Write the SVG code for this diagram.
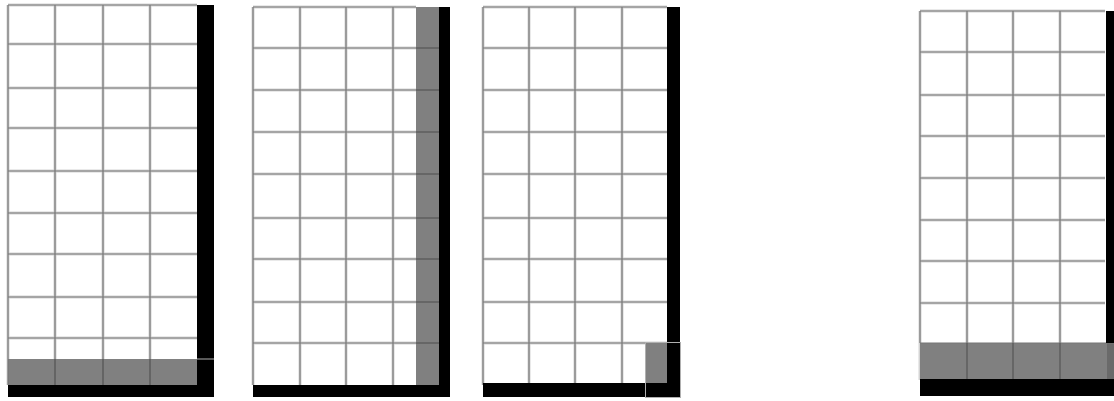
<svg xmlns="http://www.w3.org/2000/svg" width="1114" height="401" viewBox="0 0 1114 401">
<style>
.halo{stroke:#d4d4d4;stroke-width:3;fill:none}
.ln{stroke:#767676;stroke-width:1.2;fill:none}
.dk{stroke:#5e5e5e;stroke-width:1.5;fill:none}
.gf{fill:#808080}
.bk{fill:#000}
.thin{stroke:#b0b0b0;stroke-width:1;fill:none}
</style>
<rect width="1114" height="401" fill="#fff"/>
<g id="panel1">
<path class="halo" d="M8 5V385M55 5V385M103 5V385M150 5V385M8 5H197M8 44H197M8 88H197M8 128H197M8 171H197M8 213H197M8 254H197M8 297H197M8 338H197"/>
<rect class="gf" x="8" y="359" width="192" height="26"/>
<path class="ln" d="M8 5V385M55 5V385M103 5V385M150 5V385M8 5H197M8 44H197M8 88H197M8 128H197M8 171H197M8 213H197M8 254H197M8 297H197M8 338H197"/>
<path class="dk" d="M55 359V385M103 359V385M150 359V385"/>
<rect class="bk" x="197" y="5" width="17" height="392"/>
<rect class="bk" x="8" y="385" width="206" height="12"/>
<path class="thin" d="M197 359H214"/>
</g>
<g id="panel2">
<path class="halo" d="M253 7V385M300 7V397M346 7V397M393 7V397M253 7H416M253 48H416M253 90H416M253 132H416M253 174H416M253 218H416M253 259H416M253 302H416M253 343H416"/>
<rect class="gf" x="416" y="7" width="23" height="378"/>
<path class="ln" d="M253 7V385M300 7V397M346 7V397M393 7V397M253 7H416M253 48H416M253 90H416M253 132H416M253 174H416M253 218H416M253 259H416M253 302H416M253 343H416"/>
<path class="dk" d="M416 48H439M416 90H439M416 132H439M416 174H439M416 218H439M416 259H439M416 302H439M416 343H439"/>
<rect class="bk" x="439" y="7" width="11" height="390"/>
<rect class="bk" x="253" y="385" width="197" height="12"/>
</g>
<g id="panel3">
<path class="halo" d="M483 7V385M529 7V385M575 7V385M622 7V385M483 7H667M483 48H667M483 90H667M483 132H667M483 174H667M483 218H667M483 259H667M483 302H667M483 343H667"/>
<path class="ln" d="M483 7V385M529 7V385M575 7V385M622 7V385M483 7H667M483 48H667M483 90H667M483 132H667M483 174H667M483 218H667M483 259H667M483 302H667M483 343H667"/>
<rect class="gf" x="646" y="343" width="21" height="40"/>
<rect class="bk" x="667" y="7" width="13" height="390"/>
<rect class="bk" x="483" y="383" width="197" height="14"/>
<rect class="thin" x="645.5" y="342.5" width="35" height="55"/>
</g>
<g id="panel4">
<path class="halo" d="M920 11V380M967 11V380M1013 11V380M1060 11V380M920 11H1105M920 52H1105M920 95H1105M920 136H1105M920 178H1105M920 220H1105M920 261H1105M920 303H1105"/>
<rect class="gf" x="920" y="343" width="187" height="36"/>
<rect x="1107" y="343" width="7" height="36" fill="#6a6a6a"/>
<path class="ln" d="M920 11V343M967 11V343M1013 11V343M1060 11V343M920 11H1105M920 52H1105M920 95H1105M920 136H1105M920 178H1105M920 220H1105M920 261H1105M920 303H1105M920 343H1114"/>
<path class="dk" d="M967 343V379M1013 343V379M1060 343V379"/>
<rect class="bk" x="1106" y="11" width="8" height="332"/>
<rect class="bk" x="920" y="379" width="194" height="17"/>
</g>
<g id="connectors"/>
</svg>
